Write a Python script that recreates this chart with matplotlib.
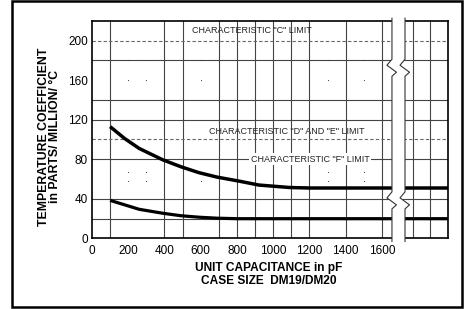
import matplotlib.pyplot as plt
from matplotlib.patches import Rectangle, Polygon

plt.rcParams['font.family'] = ['Liberation Sans', 'DejaVu Sans']

# Curves (x = capacitance in pF, y = ppm/°C)
upper_x = [100, 180, 260, 390, 490, 590, 690, 810, 920, 1090, 1200, 1964]
upper_y = [113, 101, 91, 79.5, 72.5, 66.5, 62, 58, 54, 51.5, 51, 51]
lower_x = [100, 180, 260, 390, 490, 590, 690, 800, 1964]
lower_y = [38.5, 34, 29.5, 25.5, 23, 21.5, 20.5, 20, 20]

x_ticks = [0, 200, 400, 600, 800, 1000, 1200, 1400, 1600]
y_ticks = [0, 40, 80, 120, 160, 200]
v_grid = [100, 400, 500, 700, 800, 900, 1000, 1100, 1200, 1400, 1600, 1770, 1865]
h_grid = [20, 40, 80, 120, 140, 180]
dot_x = [200, 300, 600, 1300, 1500]
dot_y = [58, 67.5, 160, 180]

limit_vals = [200, 100]
limit_labels = ['CHARACTERISTIC "C" LIMIT', 'CHARACTERISTIC "D" AND "E" LIMIT',
                'CHARACTERISTIC "F" LIMIT']
limit_label_x = [883, 1076, 1203]
limit_label_y = [210.5, 108, 80]

x_max = 1964
y_max = 220
gap = (1655, 1727)
break_y = [39, 173]

fig = plt.figure(figsize=(4.71, 3.09), dpi=100)
ax = fig.add_axes([0.1953, 0.2282, 0.7558, 0.7048])
ax.set_xlim(0, x_max)
ax.set_ylim(0, y_max)

# grid
for x in v_grid:
    ax.axvline(x, color='#444444', lw=0.8, zorder=1)
for y in h_grid:
    ax.axhline(y, color='#444444', lw=0.8, zorder=1)
for y in limit_vals:
    ax.axhline(y, color='#666666', lw=0.8, dashes=(3, 2), zorder=1)
for x in dot_x:
    ax.scatter([x] * len(dot_y), dot_y, s=0.6, color='#333333', lw=0, zorder=1)

# curves
ax.plot(upper_x, upper_y, color='black', lw=2.5, solid_capstyle='butt', zorder=3)
ax.plot(lower_x, lower_y, color='black', lw=2.3, solid_capstyle='butt', zorder=3)

# limit labels
ax.text(limit_label_x[0], limit_label_y[0], limit_labels[0], fontsize=6.5,
        ha='center', va='center', color='#222222', zorder=4)
ax.text(limit_label_x[1], limit_label_y[1], limit_labels[1], fontsize=6.5,
        ha='center', va='center', color='#222222', zorder=4)
ax.text(limit_label_x[2], limit_label_y[2], limit_labels[2], fontsize=6.5,
        ha='center', va='center', color='#222222', zorder=4,
        bbox=dict(facecolor='white', edgecolor='none', pad=1.2))

# axis break (white gap with zigzag edges)
sx = (x_max / 356.0)   # data units per pixel along x
sy = (y_max / 217.8)   # data units per pixel along y

def edge(e):
    pts = [(e, -3 * sy)]
    for yc in break_y:
        pts += [(e, yc - 9 * sy), (e + 4.5 * sx, yc - 5 * sy),
                (e - 5 * sx, yc + 2 * sy), (e, yc + 8 * sy)]
    pts.append((e, y_max + 2.5 * sy))
    return pts

left_edge = edge(gap[0])
right_edge = edge(gap[1])
ax.add_patch(Polygon(left_edge + right_edge[::-1], closed=True, facecolor='white',
                     edgecolor='none', zorder=5, clip_on=False))
for pts in (left_edge, right_edge):
    ax.plot([p[0] for p in pts], [p[1] for p in pts], color='#333333', lw=0.8,
            zorder=6, clip_on=False)

ax.set_xticks(x_ticks)
ax.set_yticks(y_ticks)
ax.tick_params(length=0, labelsize=8.5)
ax.tick_params(axis='x', pad=5)
ax.tick_params(axis='y', pad=3)
for s in ax.spines.values():
    s.set_linewidth(1.2)

fig.text(0.1055, 0.557, 'TEMPERATURE COEFFICIENT\nin PARTS/ MILLION/ \u00b0C',
         rotation=90, ha='center', va='center', fontsize=8.8, fontweight='bold',
         linespacing=0.95)
fig.text(0.571, 0.112, 'UNIT CAPACITANCE in pF\nCASE SIZE  DM19/DM20',
         ha='center', va='center', fontsize=8.6, fontweight='bold', linespacing=1.05)

# outer frame
fig.patches.append(Rectangle((0.0255, 0.008), 0.955, 0.988, transform=fig.transFigure,
                             fill=False, edgecolor='black', lw=1.8))

plt.savefig('out.png', dpi=100)
